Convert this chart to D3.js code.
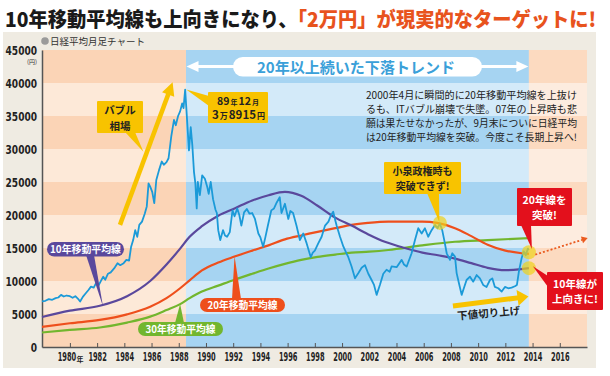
<!DOCTYPE html>
<html>
<head>
<meta charset="utf-8">
<script src="https://cdn.jsdelivr.net/npm/d3@7"></script>
<style>
  body { margin: 0; background: #fff; }
  svg { display: block; font-family: "Noto Sans CJK JP", "Noto Sans", sans-serif; }
</style>
</head>
<body>
<svg id="chart" width="610" height="376"></svg>
<script>
// Nikkei 225 monthly chart with 10/20/30-year moving averages
// values ([year, yen])

const nikkei = [
    [1977.95, 6900], [1978.2, 7000], [1978.45, 7250], [1978.7, 7150], [1978.95, 7400],
    [1979.15, 7500], [1979.35, 7900], [1979.55, 7650], [1979.75, 7800], [1980.0, 7700],
    [1980.2, 7450], [1980.4, 7700], [1980.6, 7300], [1980.75, 6900], [1980.95, 7600],
    [1981.15, 8100], [1981.35, 8600], [1981.55, 9150], [1981.75, 9000], [1981.95, 9800],
    [1982.1, 9300], [1982.3, 10100], [1982.45, 10650], [1982.6, 10200], [1982.8, 11100],
    [1983.0, 11300], [1983.25, 11900], [1983.5, 12700], [1983.7, 12400], [1983.95, 12700],
    [1984.15, 13200], [1984.35, 13100], [1984.5, 15200], [1984.65, 16200], [1984.8, 17700],
    [1984.95, 16700], [1985.1, 18500], [1985.3, 19000], [1985.5, 20200], [1985.65, 21300],
    [1985.78, 24800], [1985.9, 24300], [1986.05, 23500], [1986.2, 21800], [1986.35, 25300],
    [1986.55, 26800], [1986.75, 28100], [1986.9, 27600], [1987.1, 28000], [1987.25, 28600],
    [1987.45, 31900], [1987.65, 34400], [1987.78, 33600], [1987.95, 35000], [1988.1, 35700],
    [1988.25, 36900], [1988.35, 36200], [1988.47, 39000],
    [1988.75, 29800], [1988.88, 33300], [1989.0, 30500], [1989.12, 26500], [1989.22, 24800],
    [1989.32, 21000], [1989.4, 25000], [1989.55, 23000], [1989.72, 26000], [1989.92, 25500],
    [1990.1, 24200], [1990.2, 23200], [1990.35, 25000], [1990.52, 22400], [1990.7, 20800],
    [1990.8, 20300], [1990.9, 17700], [1991.05, 16200], [1991.25, 17700], [1991.4, 16900],
    [1991.55, 16700], [1991.75, 17400], [1991.95, 20700], [1992.1, 19800], [1992.3, 21000],
    [1992.45, 20000], [1992.6, 18400], [1992.8, 20400], [1993.0, 20900], [1993.2, 20200],
    [1993.4, 20300], [1993.6, 19400], [1993.85, 17200], [1994.0, 16600], [1994.2, 15200],
    [1994.35, 16500], [1994.55, 18400], [1994.8, 20700], [1995.0, 21000], [1995.2, 21900],
    [1995.42, 22700], [1995.55, 20300], [1995.8, 21700], [1996.05, 19400], [1996.2, 20600],
    [1996.4, 20300], [1996.65, 18400], [1996.9, 16200], [1997.15, 17200], [1997.4, 15700],
    [1997.7, 13600], [1997.85, 14300], [1998.0, 14600], [1998.25, 15700], [1998.5, 16700],
    [1998.75, 18400], [1999.0, 19000], [1999.15, 19800], [1999.35, 20500], [1999.5, 19200],
    [1999.6, 18400], [1999.85, 16700], [2000.1, 15200], [2000.3, 14300], [2000.46, 13600],
    [2000.7, 12200], [2000.95, 10400], [2001.19, 11160], [2001.44, 12000], [2001.68, 12400],
    [2001.93, 11100], [2002.17, 10150], [2002.35, 9400], [2002.54, 7900], [2002.78, 9400],
    [2003.03, 11100], [2003.27, 11700], [2003.5, 11400], [2003.64, 12200], [2004.01, 12100],
    [2004.38, 13200], [2004.55, 12500], [2004.75, 12200], [2005.11, 14200], [2005.36, 16200],
    [2005.6, 18000], [2005.85, 17200], [2006.09, 18000], [2006.33, 16700], [2006.58, 17700],
    [2006.83, 18500], [2007.02, 18000], [2007.19, 18700], [2007.36, 17700], [2007.51, 16200],
    [2007.69, 14200], [2007.93, 13200], [2008.1, 14200], [2008.3, 13700], [2008.42, 11200],
    [2008.59, 9650], [2008.79, 7900], [2008.98, 9100], [2009.15, 10150], [2009.4, 10650],
    [2009.64, 9900], [2009.89, 10900], [2010.13, 10400], [2010.37, 9400], [2010.62, 9100],
    [2010.87, 10150], [2011.04, 10400], [2011.23, 9100], [2011.48, 8900], [2011.73, 8400],
    [2011.97, 9100], [2012.21, 8900], [2012.46, 9000], [2012.7, 9200], [2012.85, 9400],
    [2013.0, 11500], [2013.2, 13500], [2013.35, 14500], [2013.5, 13900], [2013.65, 14900],
    [2013.73, 14700]
];

const ma10 = [
    [1977.95, 4550], [1980.0, 5500], [1982.2, 6250], [1984.2, 7700], [1985.9, 10000],
    [1987.1, 12500], [1988.1, 14900], [1988.8, 16700], [1989.7, 18300], [1990.9, 19900],
    [1992.1, 21000], [1993.4, 22200], [1994.6, 23000], [1995.8, 23500], [1997.0, 22900],
    [1998.2, 21400], [1999.5, 19600], [2000.7, 18400], [2001.9, 17100], [2003.2, 15900],
    [2004.6, 15000], [2005.9, 14300], [2007.05, 13900], [2008.3, 13400], [2009.5, 12700],
    [2010.7, 12000], [2012.0, 11650], [2013.0, 11750], [2013.73, 11950]
];

const ma20 = [
    [1977.95, 3050], [1980.0, 3600], [1982.2, 4100], [1984.2, 4950], [1985.9, 6100],
    [1987.1, 7400], [1988.1, 8900], [1988.8, 10100], [1989.7, 11600], [1990.9, 12800],
    [1992.1, 13700], [1993.4, 14600], [1994.6, 15400], [1995.8, 16300], [1997.0, 16900],
    [1998.2, 17450], [1999.5, 18000], [2000.7, 18500], [2001.9, 18800], [2003.4, 19000],
    [2005.9, 19000], [2007.0, 18800], [2008.3, 18000], [2009.5, 16800], [2010.7, 15500],
    [2012.0, 14600], [2013.2, 14200], [2013.73, 14100]
];

const ma30 = [
    [1977.95, 2200], [1980.0, 2600], [1982.2, 2950], [1984.2, 3700], [1985.9, 4600],
    [1987.1, 5600], [1988.1, 6500], [1988.8, 7400], [1989.7, 8400], [1990.9, 9300],
    [1992.1, 10200], [1993.4, 11100], [1994.6, 11900], [1995.8, 12600], [1997.0, 13200],
    [1998.2, 13650], [1999.5, 14000], [2000.7, 14300], [2002.0, 14450], [2003.4, 14700],
    [2005.9, 15400], [2008.3, 15950], [2010.7, 16200], [2013.73, 16500]
];

// background periods: bubble rise, 20+ year downtrend, future
const periods = [
    { from: 1977.95, to: 1988.53, kind: 'bubble' },
    { from: 1988.53, to: 2013.73, kind: 'trend' },
    { from: 2013.73, to: 2018.0, kind: 'future' }
];

const yTicks = [0, 5000, 10000, 15000, 20000, 25000, 30000, 35000, 40000, 45000];
const xTicks = [1980, 1982, 1984, 1986, 1988, 1990, 1992, 1994, 1996, 1998, 2000,
                2002, 2004, 2006, 2008, 2010, 2012, 2014, 2016];

const bandColors = {
    bubble: ['#fbd4b6', '#fde9d8'],
    trend: ['#a6d4f2', '#d3eaf9'],
    future: ['#fcdac0', '#fdecdf']
};

const svg = d3.select('#chart');

const x = d3.scaleLinear().domain([1977.95, 2018.0]).range([42, 587]);
const y = d3.scaleLinear().domain([0, 45000]).range([347, 50]);

// squeeze a text horizontally to a target width (real geometry, not textLength)
function squeeze(node, target, anchorX) {
    const w = node.getComputedTextLength();
    const s = Math.min(1, target / w);
    d3.select(node)
        .attr('x', anchorX / s)
        .attr('transform', `scale(${s},1)`);
}

// page background + beige panel
svg.append('rect').attr('width', 610).attr('height', 376).attr('fill', '#fff');
svg.append('rect')
    .attr('x', 3).attr('y', 32).attr('width', 593).attr('height', 336)
    .attr('fill', '#efebe2');

// title
const title = svg.append('text')
    .attr('x', 5).attr('y', 27)
    .attr('font-size', 20).attr('font-weight', 900);
title.append('tspan').attr('fill', '#1a1a1a').text('10年移動平均線も上向きになり、');
title.append('tspan').attr('fill', '#e8531d').text('「2万円」が現実的なターゲットに!');
squeeze(title.node(), 592, 5);

// subtitle
svg.append('circle').attr('cx', 45).attr('cy', 41).attr('r', 3.8).attr('fill', '#9a9a9a');
svg.append('text')
    .attr('x', 50).attr('y', 44.5)
    .attr('font-size', 9.5).attr('fill', '#333')
    .text('日経平均月足チャート');

// bands every 5000 yen for each period
const bands = svg.append('g');
periods.forEach(p => {
    d3.range(0, 45000, 5000).forEach((v, i) => {
        bands.append('rect')
            .attr('x', x(p.from))
            .attr('y', y(v + 5000))
            .attr('width', x(p.to) - x(p.from))
            .attr('height', y(v) - y(v + 5000))
            .attr('fill', bandColors[p.kind][i % 2]);
    });
});

// axes
const numFont = '"DejaVu Sans Condensed", "DejaVu Sans", sans-serif';

const yAxis = svg.append('g')
    .attr('transform', `translate(${x.range()[0]},0)`)
    .call(d3.axisLeft(y).tickValues(yTicks).tickSize(0).tickPadding(5).tickFormat(d3.format('d')));
yAxis.select('.domain').attr('stroke', '#555').attr('stroke-width', 1.5);
yAxis.selectAll('text')
    .attr('font-family', numFont)
    .attr('font-weight', 700).attr('font-size', 12.5).attr('fill', '#222')
    .each(function(d) { squeeze(this, String(d).length * 6.3, -5); });

svg.append('text')
    .attr('x', 37).attr('y', 64)
    .attr('text-anchor', 'end')
    .attr('font-size', 6).attr('fill', '#333')
    .text('(円)');

const xAxis = svg.append('g')
    .attr('transform', `translate(0,${y.range()[0]})`)
    .call(d3.axisBottom(x).tickValues(xTicks).tickSizeInner(-4).tickSizeOuter(0).tickPadding(5)
        .tickFormat(d3.format('d')));
xAxis.select('.domain').attr('stroke', '#555').attr('stroke-width', 1.5);
xAxis.selectAll('.tick line').attr('stroke', '#555').attr('stroke-width', 1);
xAxis.selectAll('text')
    .attr('font-family', numFont)
    .attr('font-weight', 700).attr('font-size', 12.5).attr('fill', '#222')
    .each(function(d) { squeeze(this, 18.5, d === xTicks[0] ? -3.5 : 0); });
// first tick carries a small 年
svg.append('text')
    .attr('x', x(xTicks[0]) + 6.5).attr('y', 361.5)
    .attr('font-size', 7).attr('font-weight', 700).attr('fill', '#222')
    .text('年');

// lines
const line = d3.line().x(d => x(d[0])).y(d => y(d[1]));
const smooth = d3.line().x(d => x(d[0])).y(d => y(d[1])).curve(d3.curveMonotoneX);

const series = svg.append('g').attr('fill', 'none').attr('stroke-linejoin', 'round');
series.append('path').attr('d', smooth(ma30)).attr('stroke', '#72b62e').attr('stroke-width', 2.2);
series.append('path').attr('d', smooth(ma20)).attr('stroke', '#ee4f1c').attr('stroke-width', 2.2);
series.append('path').attr('d', smooth(ma10)).attr('stroke', '#5a489c').attr('stroke-width', 2.2);
series.append('path').attr('d', line(nikkei)).attr('stroke', '#1b9ad8').attr('stroke-width', 1.8);

// highlight circles
const last = arr => arr[arr.length - 1];
const hl = svg.append('g').attr('fill', '#f0d21a').attr('fill-opacity', 0.7);
hl.append('circle').attr('cx', x(2007.19)).attr('cy', y(18800)).attr('r', 7);
hl.append('circle').attr('cx', x(last(ma20)[0])).attr('cy', y(last(ma20)[1] + 250)).attr('r', 7);
hl.append('circle').attr('cx', x(last(ma10)[0])).attr('cy', y(last(ma10)[1])).attr('r', 7);

// helpers
function head(g, from, to, len, half, color) {
    const dx = to[0] - from[0], dy = to[1] - from[1];
    const d = Math.sqrt(dx * dx + dy * dy);
    const ux = dx / d, uy = dy / d;
    const bx = to[0] - ux * len, by = to[1] - uy * len;
    g.append('polygon')
        .attr('points', [[to[0], to[1]], [bx - uy * half, by + ux * half], [bx + uy * half, by - ux * half]].join(' '))
        .attr('fill', color);
    return [bx, by];
}

function arrow(g, from, to, width, len, half, color) {
    const base = head(g, from, to, len, half, color);
    g.append('line')
        .attr('x1', from[0]).attr('y1', from[1])
        .attr('x2', base[0] + (to[0] - base[0]) * 0.2).attr('y2', base[1] + (to[1] - base[1]) * 0.2)
        .attr('stroke', color).attr('stroke-width', width);
}

function box(g, bx, by, bw, bh, rx, fill, pointer) {
    if (pointer) {
        g.append('polygon').attr('points', pointer.join(' ')).attr('fill', fill);
    }
    g.append('rect')
        .attr('x', bx).attr('y', by).attr('width', bw).attr('height', bh)
        .attr('rx', rx).attr('fill', fill);
}

function label(g, tx, ty, str, size, color, weight, len) {
    const t = g.append('text')
        .attr('x', tx).attr('y', ty)
        .attr('text-anchor', 'middle')
        .attr('font-size', size).attr('font-weight', weight || 700)
        .attr('fill', color)
        .text(str);
    if (len) t.attr('textLength', len).attr('lengthAdjust', 'spacingAndGlyphs');
    return t;
}

// a centred run of pieces with different sizes (e.g. 89年12月)
function mixed(g, cx, by, parts, color) {
    const texts = parts.map(([s, size]) => g.append('text')
        .attr('y', by).attr('font-size', size).attr('font-weight', 700)
        .attr('fill', color).text(s));
    const widths = texts.map(t => t.node().getComputedTextLength() + 1);
    let cur = cx - (d3.sum(widths) - 1) / 2;
    texts.forEach((t, i) => { t.attr('x', cur); cur += widths[i]; });
}

const ann = svg.append('g');
const yellow = '#f8c300';
const red = '#e3101c';

// 20-year downtrend banner
const bandY = y(42500);
arrow(ann, [x(2000), bandY], [x(1988.53) + 0.5, bandY], 2.8, 12, 5.5, '#fff');
arrow(ann, [x(2000), bandY], [x(2013.73) - 0.5, bandY], 2.8, 12, 5.5, '#fff');
box(ann, 233, 57, 249, 19.5, 9.75, '#fff');
label(ann, 356, 72.5, '20年以上続いた下落トレンド', 15, '#3aa0d9', 700, 198);

// bubble arrow
arrow(ann, [x(1983.68), y(18500)], [x(1987.55), y(40100)], 4.5, 13, 6.5, yellow);

box(ann, 97, 101, 46, 32, 1, yellow, [[125, 132], [135, 132], [x(1985.4), y(29600)]]);
label(ann, 120, 114, 'バブル', 10.5, '#222');
label(ann, 120, 129.5, '相場', 10.5, '#222');

// peak callout
box(ann, 208, 92, 60, 31, 1, yellow, [[209, 96], [209, 106], [x(1988.55), y(39000)]]);
mixed(ann, 238, 104.5, [['89', 10.5], ['年', 7], ['12', 10.5], ['月', 7]], '#222');
mixed(ann, 238.5, 119, [['3', 11.5], ['万', 8], ['8915', 11.5], ['円', 8]], '#222');

// commentary
const notes = [
    '2000年4月に瞬間的に20年移動平均線を上抜け',
    'るも、ITバブル崩壊で失墜。07年の上昇時も悲',
    '願は果たせなかったが、9月末についに日経平均',
    'は20年移動平均線を突破。今度こそ長期上昇へ!'
];
notes.forEach((s, i) => {
    ann.append('text')
        .attr('x', 366).attr('y', 98.5 + i * 14.3)
        .attr('font-size', 10).attr('fill', '#222')
        .attr('textLength', 211).attr('lengthAdjust', 'spacingAndGlyphs')
        .text(s);
});

// Koizumi callout
box(ann, 384, 162, 77, 32, 1, yellow, [[427, 193], [439, 193], [x(2007.15), y(18900)]]);
label(ann, 422.5, 175, '小泉政権時も', 10, '#222');
label(ann, 422.5, 190, '突破できず!', 10, '#222');

// 20-year line break callout
box(ann, 517, 188, 55, 38, 1, red, [[521, 225], [531, 225], [x(2013.73) + 3, y(14400) - 3]]);
label(ann, 544.5, 203.5, '20年線を', 10.5, '#fff');
label(ann, 544.5, 219, '突破!', 10.5, '#fff');

// 10-year line turning up callout
box(ann, 547, 272, 56, 38, 1, red, [[548, 276], [548, 287], [x(2013.73) + 4, y(11950) - 2]]);
label(ann, 575, 287.5, '10年線が', 10.5, '#fff');
label(ann, 575, 303, '上向きに!', 10.5, '#fff');

// dotted outlook arrow
const dotFrom = [x(2014.2), y(14000)];
const dotTo = [x(2018.05), y(16500)];
const dotBase = head(ann, dotFrom, dotTo, 6, 3.5, '#ea5a1e');
ann.append('line')
    .attr('x1', dotFrom[0]).attr('y1', dotFrom[1])
    .attr('x2', dotBase[0]).attr('y2', dotBase[1])
    .attr('stroke', '#ea5a1e').attr('stroke-width', 1.8)
    .attr('stroke-dasharray', '2,2');

// higher lows arrow
arrow(ann, [x(2008.15), y(6200)], [x(2013.7), y(7650)], 5, 11, 8, yellow);
ann.append('text')
    .attr('transform', `translate(489,317) rotate(-5)`)
    .attr('text-anchor', 'middle')
    .attr('font-size', 10.5).attr('font-weight', 700).attr('fill', '#222')
    .text('下値切り上げ');

// moving average tags
box(ann, 47, 242, 77, 14.5, 7.25, '#5a489c', [[86, 255], [94, 255], [x(1980.45) + 27, y(6150)]]);
label(ann, 85.5, 253, '10年移動平均線', 10, '#fff', 700, 71);

box(ann, 200, 298, 85, 14, 7, '#ee4f1c', [[232, 299], [241, 299], [x(1992.1), y(13750)]]);
label(ann, 242.5, 309, '20年移動平均線', 10, '#fff', 700, 70);

box(ann, 138, 322, 85, 14, 7, '#72b62e', [[175, 323], [184, 323], [x(1988.1), y(6500)]]);
label(ann, 180.5, 333, '30年移動平均線', 10, '#fff', 700, 70);
</script>
</body>
</html>
